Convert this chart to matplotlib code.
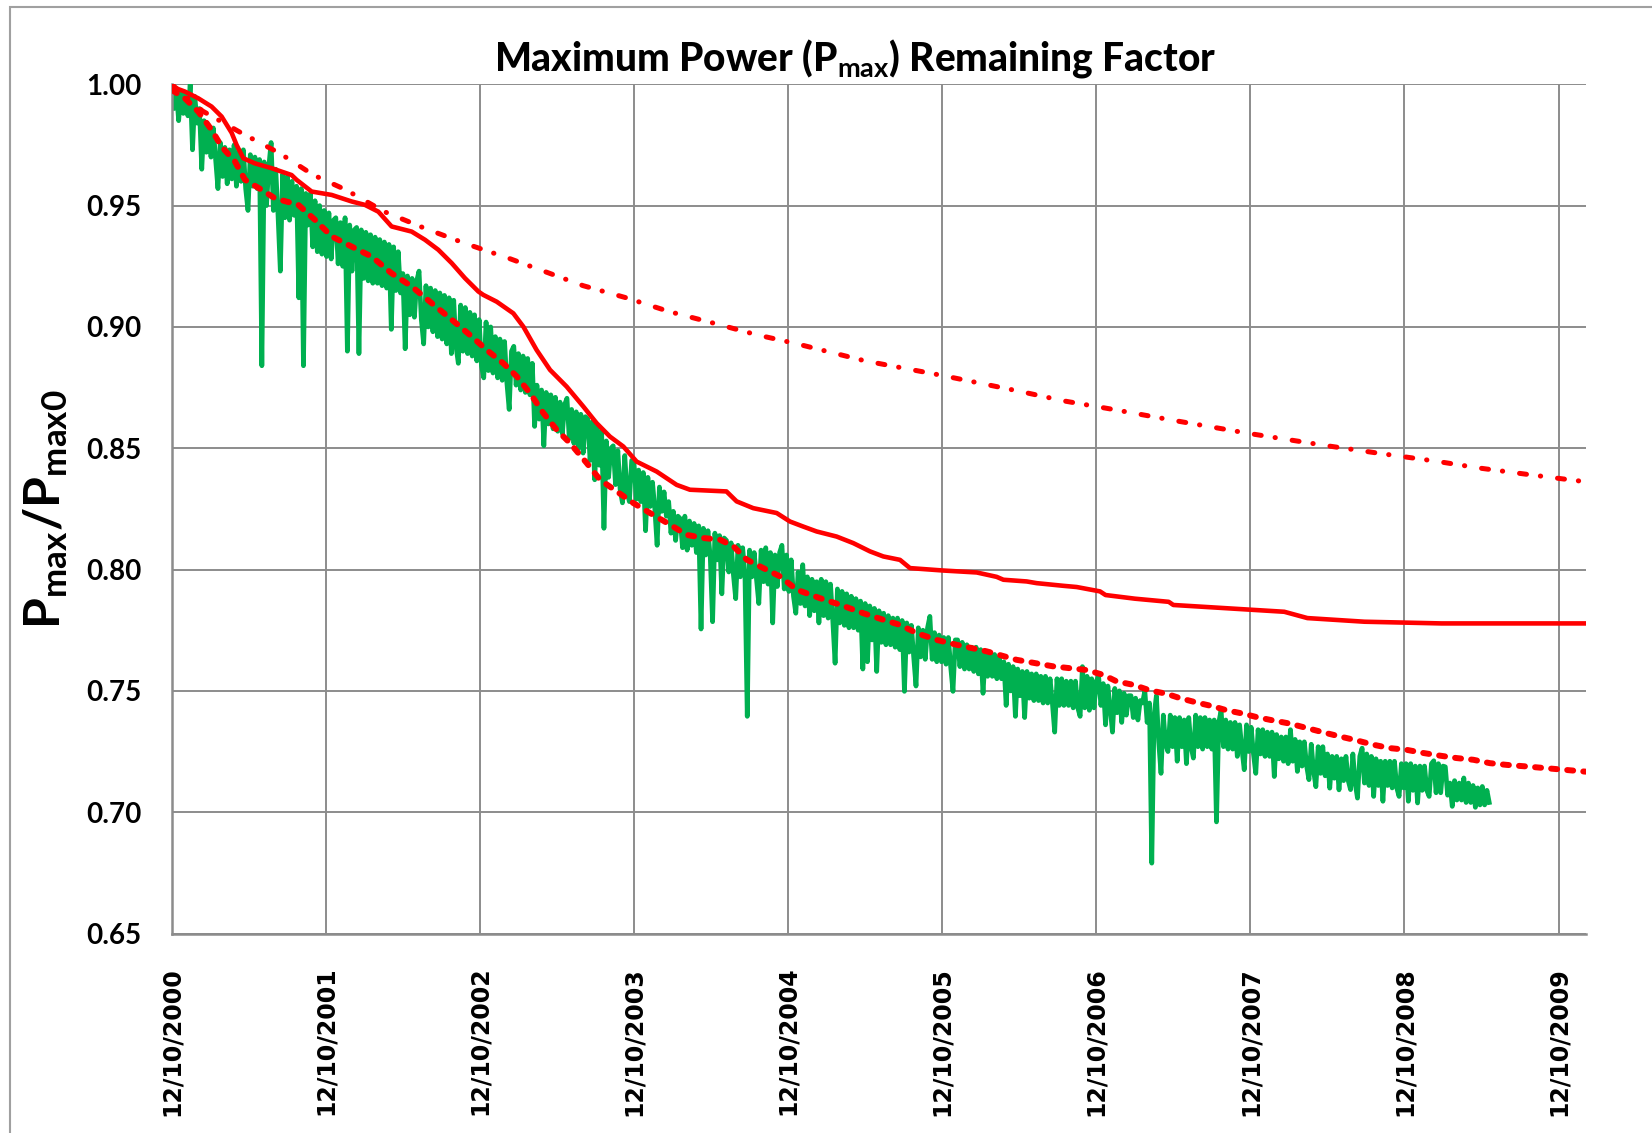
import numpy as np
from matplotlib import pyplot as plt
from matplotlib.patches import Rectangle

plt.rcParams['font.family'] = ['Lato', 'DejaVu Sans']
plt.rcParams['mathtext.fontset'] = 'custom'
plt.rcParams['mathtext.rm'] = 'Lato'
plt.rcParams['mathtext.bf'] = 'Lato:bold'
plt.rcParams['mathtext.it'] = 'Lato:italic'

#x values are years since 12/10/2000
tick_labels = ['12/10/2000', '12/10/2001', '12/10/2002', '12/10/2003', '12/10/2004',
               '12/10/2005', '12/10/2006', '12/10/2007', '12/10/2008', '12/10/2009']
y_ticks = [0.65, 0.70, 0.75, 0.80, 0.85, 0.90, 0.95, 1.00]

#measured Pmax ratio, one sample every 0.015 year, rows of 20 samples (0.3 year)
measured = [
    1.000, 0.990, 0.998, 0.985, 0.997, 0.988, 0.996, 0.987, 1.000, 0.973, 0.995, 0.984, 0.990, 0.965, 0.985, 0.972, 0.983, 0.970, 0.982, 0.969,
    0.957, 0.976, 0.962, 0.974, 0.959, 0.973, 0.961, 0.975, 0.958, 0.972, 0.960, 0.973, 0.957, 0.948, 0.971, 0.958, 0.970, 0.957, 0.969, 0.884,
    0.968, 0.950, 0.966, 0.976, 0.948, 0.965, 0.946, 0.923, 0.963, 0.945, 0.962, 0.944, 0.960, 0.946, 0.958, 0.912, 0.957, 0.884, 0.955, 0.942,
    0.955, 0.933, 0.952, 0.931, 0.950, 0.930, 0.948, 0.929, 0.947, 0.928, 0.944, 0.945, 0.926, 0.943, 0.925, 0.945, 0.890, 0.942, 0.923, 0.940,
    0.941, 0.889, 0.940, 0.920, 0.939, 0.919, 0.938, 0.918, 0.937, 0.918, 0.936, 0.917, 0.935, 0.916, 0.934, 0.899, 0.933, 0.915, 0.931, 0.914,
    0.922, 0.891, 0.921, 0.905, 0.920, 0.904, 0.919, 0.923, 0.903, 0.893, 0.917, 0.900, 0.916, 0.898, 0.915, 0.896, 0.914, 0.895, 0.913, 0.893,
    0.912, 0.889, 0.911, 0.892, 0.885, 0.909, 0.890, 0.908, 0.889, 0.906, 0.888, 0.905, 0.886, 0.903, 0.884, 0.879, 0.902, 0.882, 0.900, 0.881,
    0.896, 0.879, 0.895, 0.878, 0.894, 0.877, 0.866, 0.890, 0.892, 0.876, 0.889, 0.874, 0.888, 0.873, 0.887, 0.872, 0.885, 0.859, 0.876, 0.862,
    0.874, 0.851, 0.873, 0.860, 0.872, 0.858, 0.871, 0.857, 0.869, 0.856, 0.868, 0.8706, 0.854, 0.866, 0.852, 0.865, 0.850, 0.864, 0.848, 0.863,
    0.862, 0.845, 0.861, 0.837, 0.859, 0.843, 0.857, 0.817, 0.853, 0.838, 0.850, 0.851, 0.835, 0.849, 0.833, 0.8275, 0.847, 0.832, 0.828, 0.845,
    0.844, 0.829, 0.841, 0.828, 0.840, 0.816, 0.838, 0.826, 0.836, 0.825, 0.810, 0.834, 0.824, 0.832, 0.822, 0.828, 0.815, 0.824, 0.812, 0.822,
    0.821, 0.809, 0.822, 0.808, 0.820, 0.810, 0.819, 0.807, 0.818, 0.7755, 0.817, 0.806, 0.816, 0.805, 0.7785, 0.815, 0.804, 0.814, 0.790, 0.813,
    0.812, 0.799, 0.811, 0.798, 0.788, 0.810, 0.797, 0.809, 0.798, 0.7395, 0.808, 0.797, 0.807, 0.796, 0.786, 0.808, 0.795, 0.809, 0.794, 0.807,
    0.778, 0.806, 0.793, 0.807, 0.810, 0.792, 0.806, 0.791, 0.804, 0.789, 0.782, 0.799, 0.786, 0.802, 0.785, 0.797, 0.781, 0.796, 0.783, 0.795,
    0.778, 0.796, 0.781, 0.795, 0.780, 0.794, 0.779, 0.7614, 0.792, 0.778, 0.791, 0.777, 0.790, 0.776, 0.789, 0.776, 0.788, 0.775, 0.787, 0.759,
    0.786, 0.762, 0.785, 0.771, 0.784, 0.758, 0.783, 0.770, 0.782, 0.769, 0.781, 0.769, 0.780, 0.768, 0.780, 0.767, 0.779, 0.7498, 0.778, 0.766,
    0.777, 0.764, 0.752, 0.776, 0.764, 0.775, 0.763, 0.776, 0.7807, 0.763, 0.774, 0.762, 0.773, 0.762, 0.772, 0.761, 0.772, 0.760, 0.7498, 0.771,
    0.771, 0.760, 0.770, 0.759, 0.769, 0.759, 0.768, 0.758, 0.768, 0.757, 0.767, 0.749, 0.766, 0.756, 0.766, 0.756, 0.765, 0.755, 0.764, 0.755,
    0.762, 0.744, 0.761, 0.750, 0.760, 0.7395, 0.759, 0.748, 0.758, 0.739, 0.758, 0.747, 0.757, 0.746, 0.757, 0.746, 0.756, 0.745, 0.756, 0.745,
    0.755, 0.745, 0.733, 0.755, 0.744, 0.755, 0.744, 0.754, 0.744, 0.754, 0.743, 0.754, 0.743, 0.7395, 0.760, 0.743, 0.756, 0.742, 0.755, 0.743,
    0.754, 0.756, 0.744, 0.753, 0.736, 0.752, 0.743, 0.733, 0.751, 0.741, 0.750, 0.737, 0.749, 0.740, 0.748, 0.748, 0.739, 0.747, 0.738, 0.746,
    0.745, 0.750, 0.737, 0.745, 0.679, 0.740, 0.748, 0.729, 0.716, 0.740, 0.728, 0.725, 0.740, 0.727, 0.739, 0.721, 0.739, 0.727, 0.738, 0.720,
    0.739, 0.727, 0.7223, 0.740, 0.727, 0.739, 0.726, 0.739, 0.727, 0.738, 0.726, 0.738, 0.696, 0.737, 0.742, 0.727, 0.738, 0.726, 0.737, 0.726,
    0.737, 0.723, 0.736, 0.726, 0.7175, 0.736, 0.725, 0.735, 0.724, 0.716, 0.734, 0.724, 0.734, 0.723, 0.733, 0.723, 0.733, 0.7147, 0.732, 0.722,
    0.731, 0.721, 0.731, 0.720, 0.734, 0.721, 0.730, 0.7168, 0.729, 0.719, 0.729, 0.719, 0.7134, 0.728, 0.717, 0.7105, 0.727, 0.716, 0.727, 0.715,
    0.724, 0.7099, 0.723, 0.714, 0.723, 0.7092, 0.722, 0.713, 0.723, 0.713, 0.7093, 0.724, 0.712, 0.7058, 0.723, 0.7264, 0.712, 0.724, 0.711, 0.723,
    0.7065, 0.722, 0.711, 0.721, 0.7045, 0.721, 0.711, 0.721, 0.710, 0.721, 0.710, 0.7065, 0.720, 0.710, 0.720, 0.7045, 0.720, 0.709, 0.719, 0.7038,
    0.719, 0.709, 0.719, 0.709, 0.7065, 0.720, 0.7212, 0.708, 0.720, 0.708, 0.719, 0.7187, 0.707, 0.712, 0.7024, 0.713, 0.705, 0.712, 0.705, 0.7141,
    0.704, 0.712, 0.704, 0.711, 0.702, 0.710, 0.703, 0.7106, 0.703, 0.709, 0.704,
]
measured_t = np.arange(len(measured)) * 0.015

#solid red curve
solid_t = [0.0, 0.086, 0.173, 0.259, 0.324, 0.389, 0.421, 0.465, 0.54, 0.649, 0.778, 0.811,
           0.908, 1.038, 1.168, 1.254, 1.341, 1.427, 1.557, 1.644, 1.73, 1.817, 1.903, 1.99,
           2.022, 2.109, 2.217, 2.282, 2.368, 2.455, 2.563, 2.671, 2.758, 2.844, 2.931, 3.017,
           3.147, 3.277, 3.363, 3.6, 3.666, 3.774, 3.926, 4.012, 4.099, 4.185, 4.315, 4.423,
           4.531, 4.618, 4.726, 4.791, 5.007, 5.224, 5.353, 5.397, 5.548, 5.613, 5.786, 5.873,
           6.024, 6.06, 6.25, 6.47, 6.50, 7.22, 7.37, 7.74, 8.24, 9.176]
solid_v = [0.999, 0.997, 0.9942, 0.9908, 0.9867, 0.980, 0.975, 0.9695, 0.9674, 0.9654, 0.9626, 0.9606,
           0.9558, 0.9544, 0.9517, 0.9503, 0.9475, 0.9414, 0.9393, 0.9359, 0.9318, 0.9263, 0.9201, 0.9146,
           0.9132, 0.9104, 0.9056, 0.9001, 0.8905, 0.8823, 0.8754, 0.8672, 0.8603, 0.8548, 0.8507, 0.8445,
           0.8404, 0.8349, 0.8329, 0.8322, 0.8281, 0.8253, 0.8233, 0.8198, 0.8177, 0.8157, 0.8136, 0.8109,
           0.8075, 0.8054, 0.804, 0.8006, 0.7996, 0.7988, 0.797, 0.7958, 0.7951, 0.7944, 0.7933, 0.7928,
           0.791, 0.7895, 0.788, 0.7867, 0.7854, 0.7826, 0.780, 0.7785, 0.7778, 0.7778]

#dashed red curve
dash_t = [0.0, 0.086, 0.173, 0.259, 0.324, 0.411, 0.476, 0.584, 0.67, 0.822, 0.93, 1.038,
          1.168, 1.298, 1.427, 1.557, 1.687, 1.817, 1.946, 2.044, 2.152, 2.239, 2.325, 2.412,
          2.498, 2.585, 2.693, 2.78, 2.888, 2.996, 3.104, 3.234, 3.342, 3.45, 3.558, 3.645,
          3.731, 3.839, 3.947, 4.056, 4.207, 4.337, 4.488, 4.618, 4.726, 4.835, 4.964, 5.094,
          5.288, 5.483, 5.721, 5.937, 6.045, 6.132, 6.24, 6.348, 6.456, 6.543, 6.651, 6.759,
          6.846, 6.954, 7.04, 7.148, 7.257, 7.365, 7.473, 7.581, 7.689, 7.798, 7.906, 8.014,
          8.122, 8.23, 8.339, 8.447, 8.555, 8.663, 8.782, 9.176]
dash_v = [0.9977, 0.9942, 0.9887, 0.9812, 0.9743, 0.9681, 0.9606, 0.9565, 0.953, 0.9503, 0.9441, 0.9373,
          0.9331, 0.929, 0.9221, 0.9167, 0.9098, 0.903, 0.8961, 0.8905, 0.885, 0.8796, 0.8727, 0.8645,
          0.8576, 0.8521, 0.8439, 0.837, 0.8322, 0.8274, 0.8233, 0.8185, 0.8143, 0.813, 0.8123, 0.8096,
          0.8041, 0.8006, 0.7972, 0.7917, 0.7882, 0.7855, 0.782, 0.7793, 0.7772, 0.7738, 0.771, 0.769,
          0.7663, 0.7628, 0.7601, 0.7586, 0.7566, 0.7539, 0.7525, 0.7502, 0.7488, 0.747, 0.7452, 0.7436,
          0.742, 0.7406, 0.7392, 0.7378, 0.7365, 0.7347, 0.7329, 0.7312, 0.7296, 0.7278, 0.7264, 0.7257,
          0.7244, 0.7233, 0.7223, 0.7216, 0.7202, 0.7195, 0.7189, 0.7167]

#dash-dot red curve
dashdot_t = [0.0, 0.2, 0.45, 0.7, 0.92, 1.13, 1.38, 1.64, 1.9, 2.2, 2.67, 2.95, 3.23, 3.49, 3.8,
             4.04, 4.5, 5.0, 5.5, 5.79, 6.1, 6.5, 7.0, 7.5, 7.87, 8.2, 8.49, 8.8, 9.11, 9.176]
dashdot_v = [1.0, 0.989, 0.980, 0.9716, 0.9626, 0.9565, 0.9475, 0.9407, 0.9345, 0.928, 0.917, 0.912,
             0.9063, 0.902, 0.8967, 0.8933, 0.886, 0.880, 0.8735, 0.8695, 0.8661, 0.8615, 0.856, 0.851,
             0.8476, 0.8447, 0.8418, 0.8392, 0.8367, 0.8362]

grid_col = '#8c8c8c'

fig = plt.figure(figsize=(16.52, 11.33), dpi=100)
ax = fig.add_axes([0.10394, 0.17608, 0.85593, 0.74952])

ax.plot(measured_t, measured, color='#00b050', lw=3.4, solid_joinstyle='round', zorder=2)
ax.plot(solid_t, solid_v, color='#ff0000', lw=3.3, zorder=3)
l1, = ax.plot(dash_t, dash_v, color='#ff0000', lw=4.3, dash_capstyle='round', zorder=4)
l1.set_dashes((1.0, 1.7))
l2, = ax.plot(dashdot_t, dashdot_v, color='#ff0000', lw=3.6, dash_capstyle='round', zorder=4)
l2.set_dashes((1.4, 2.8, 0.06, 3.4))

ax.set_xlim(0, 9.176)
ax.set_ylim(0.65, 1.00)
ax.set_xticks(range(len(tick_labels)))
ax.set_xticklabels(tick_labels, rotation=90, fontsize=17, fontweight='bold', family='DejaVu Sans')
ax.set_yticks(y_ticks)
ax.set_yticklabels(['%.2f' % v for v in y_ticks], fontsize=20, fontweight='bold')
ax.tick_params(axis='x', length=0, pad=24)
ax.tick_params(axis='y', length=0, pad=22)
ax.grid(True, color=grid_col, lw=1.4)
ax.set_axisbelow(True)
for s in ['top', 'right']:
    ax.spines[s].set_visible(False)
for s in ['left', 'bottom']:
    ax.spines[s].set_color(grid_col)
    ax.spines[s].set_linewidth(1.8)

fig.text(0.5176, 1 - 70 / 1133, r'Maximum Power (P$_{\mathbf{max}}$) Remaining Factor',
         ha='center', va='baseline', fontsize=28, fontweight=900)
fig.text(46 / 1652, 1 - 509 / 1133, r'$\mathbf{P_{max}/P_{max0}}$', rotation=90,
         ha='center', va='center', fontsize=36)

#chart area border (only left and top edges are inside the picture)
fig.add_artist(Rectangle((10 / 1652, -0.05), 1.2, 1.05 - 7 / 1133, transform=fig.transFigure,
                         fill=False, ec='#a0a0a0', lw=1.5))

fig.savefig('out.png', dpi=100)
